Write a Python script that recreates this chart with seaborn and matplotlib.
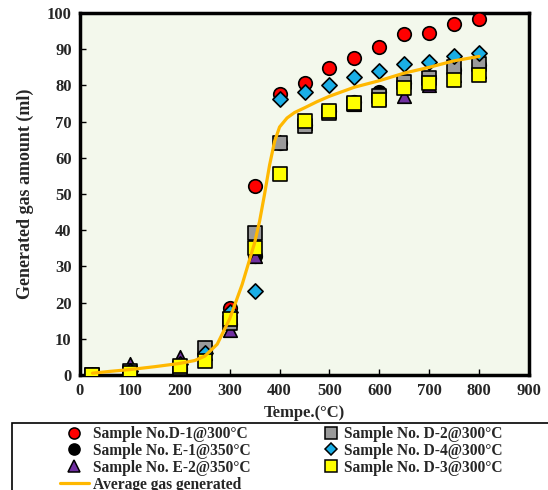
import numpy as np
import pandas as pd
import matplotlib
matplotlib.use("Agg")
import matplotlib.pyplot as plt
import seaborn as sns
from matplotlib.lines import Line2D
from matplotlib.patches import Rectangle

sns.set_theme(style="ticks")
plt.rcParams["font.family"] = ["Liberation Serif", "DejaVu Serif"]
plt.rcParams["font.weight"] = "bold"

# Temperatures (°C) at which gas volume was measured
temps = [25, 100, 200, 250, 300, 350, 400, 450, 500, 550, 600, 650, 700, 750, 800]

# Generated gas amount (ml) for each sample
d1 = [0, 1, 1.5, 7, 18.5, 52.3, 77.5, 80.8, 84.7, 87.6, 90.5, 94.2, 94.6, 97.0, 98.3]
e1 = [0, 1, 2, 7.5, 14, 33, 64, 69, 72.8, 75.5, 78.3, 80.8, 82.0, 84.2, 85.5]
e2 = [0, 3, 5, 6, 12.5, 33, 64.5, 69.5, 72.8, 75.0, 76.5, 77.0, 80.0, 83.0, 84.0]
d2 = [0, 1, 2, 7.5, 14.5, 39.3, 64, 68.8, 72.5, 75.0, 77.0, 81.0, 82.0, 85.0, 86.0]
d4 = [0, 1, 3, 6, 17.5, 23.3, 76.3, 78.3, 80.0, 82.4, 83.9, 86.0, 86.5, 88.0, 89.0]
d3 = [0, 0.5, 2.5, 4, 15.5, 35, 55.5, 70.2, 72.8, 75.2, 76.0, 79.2, 80.8, 81.6, 83.0]

# Average gas generated (smooth fitted curve)
avg_t = [25, 60, 100, 150, 200, 230, 250, 275, 300, 325, 350, 360, 370, 380, 390,
         400, 415, 430, 450, 475, 500, 550, 600, 650, 700, 750, 800]
avg_v = [0.5, 1.0, 1.5, 2.3, 3.2, 4.0, 5.2, 8.5, 15.5, 25, 36.5, 42.5, 50, 58, 64.5,
         68.5, 71.0, 72.5, 73.8, 75.5, 77.0, 79.5, 81.3, 83.4, 85.0, 86.8, 88.0]

labels = ["Sample No.D-1@300°C", "Sample No. E-1@350°C", "Sample No. E-2@350°C",
          "Sample No. D-2@300°C", "Sample No. D-4@300°C", "Sample No. D-3@300°C"]
avg_label = "Average gas generated"

rows = []
for lab, vals in zip(labels, [d1, e1, e2, d2, d4, d3]):
    for t, v in zip(temps, vals):
        rows.append({"temp": t, "gas": v, "sample": lab})
df = pd.DataFrame(rows)
avg_df = pd.DataFrame({"temp": avg_t, "gas": avg_v})

styles = {
    labels[0]: ("o", "#FF0000", 95),
    labels[1]: ("o", "#000000", 95),
    labels[2]: ("^", "#7030A0", 95),
    labels[3]: ("s", "#9A9A9A", 100),
    labels[4]: ("D", "#1AAEE6", 60),
    labels[5]: ("s", "#FFFF00", 100),
}

W, H = 548, 490
fig = plt.figure(figsize=(W / 100, H / 100), dpi=100)
ax = fig.add_axes([80 / W, 1 - 375 / H, 449 / W, 362 / H])
ax.set_facecolor("#F3F8EC")

for lab in labels:
    m, c, s = styles[lab]
    sns.scatterplot(data=df[df["sample"] == lab], x="temp", y="gas", marker=m,
                    color=c, s=s, edgecolor="black", linewidth=1.2, ax=ax,
                    legend=False, zorder=3)

sns.lineplot(data=avg_df, x="temp", y="gas", color="#FFB800", linewidth=2.3,
             ax=ax, zorder=4, legend=False)

ax.set_xlim(0, 900)
ax.set_ylim(0, 100)
ax.set_xticks(range(0, 901, 100))
ax.set_yticks(range(0, 101, 10))
ax.tick_params(direction="in", length=4, width=1, labelsize=12, pad=6, color="black")
for lbl in ax.get_xticklabels() + ax.get_yticklabels():
    lbl.set_fontweight("bold")
for sp in ax.spines.values():
    sp.set_linewidth(2.5)
    sp.set_color("black")
ax.set_xlabel("Tempe.(°C)", fontsize=12, fontweight="bold", labelpad=4)
ax.set_ylabel("Generated gas amount (ml)", fontsize=13, fontweight="bold", labelpad=9)

# Legend frame, running off the right and bottom edges of the figure
fig.patches.append(Rectangle((12 / W, -0.05), 0.99, 1 - 423 / H + 0.05,
                             transform=fig.transFigure, facecolor="white",
                             edgecolor="black", linewidth=1.2, zorder=1))

def h(lab):
    m, c, s = styles[lab]
    return Line2D([], [], linestyle="none", marker=m, markerfacecolor=c,
                  markeredgecolor="black", markersize=8 if m != "D" else 6.5,
                  markeredgewidth=1.1)

legend_font = {"family": ["Liberation Serif"], "weight": "bold", "size": 11.2}

left_handles = [h(labels[0]), h(labels[1]), h(labels[2]),
                Line2D([], [], color="#FFB800", linewidth=2.3)]
left_names = [labels[0], labels[1], labels[2], avg_label]
leg1 = fig.legend(left_handles, left_names, loc="upper left",
                  bbox_to_anchor=(60 / W, 1 - 426 / H), frameon=False,
                  prop=legend_font, labelspacing=0.06, handlelength=1.85,
                  handletextpad=0.3, borderpad=0, borderaxespad=0)
leg1.set_zorder(2)

right_handles = [h(labels[3]), h(labels[4]), h(labels[5])]
right_names = [labels[3], labels[4], labels[5]]
leg2 = fig.legend(right_handles, right_names, loc="upper left",
                  bbox_to_anchor=(322 / W, 1 - 426 / H), frameon=False,
                  prop=legend_font, labelspacing=0.06, handlelength=1.1,
                  handletextpad=0.3, borderpad=0, borderaxespad=0)
leg2.set_zorder(2)

fig.savefig("out.png", dpi=100)
